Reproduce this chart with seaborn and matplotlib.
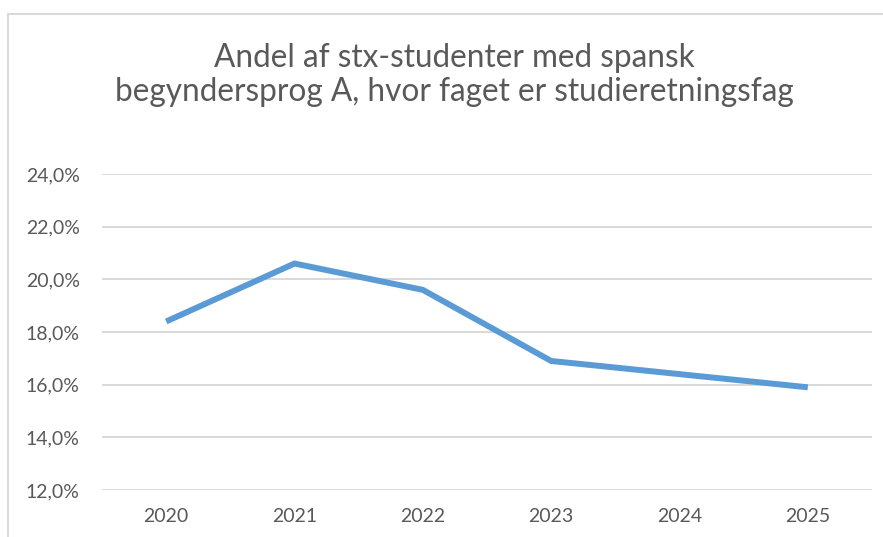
import matplotlib
matplotlib.use("Agg")
import matplotlib.pyplot as plt
import seaborn as sns
import pandas as pd
from matplotlib.ticker import FuncFormatter, FixedLocator
from matplotlib.patches import Rectangle

years = ["2020", "2021", "2022", "2023", "2024", "2025"]
values = [18.4, 20.6, 19.6, 16.9, 16.4, 15.9]
y_ticks = [12, 14, 16, 18, 20, 22, 24]
title = "Andel af stx-studenter med spansk\nbegyndersprog A, hvor faget er studieretningsfag"

sns.set_theme(style="white")
plt.rcParams["font.family"] = ["Lato", "DejaVu Sans"]

df = pd.DataFrame({"pos": range(len(years)), "value": values})

fig = plt.figure(figsize=(8.83, 5.37), dpi=100)
ax = fig.add_axes([102/883, 1-490/537, (872-102)/883, (490-174)/537])

sns.lineplot(data=df, x="pos", y="value", ax=ax, color="#5B9BD5", linewidth=4.3,
             solid_capstyle="butt", solid_joinstyle="miter")

ax.set_xlim(-0.5, len(years) - 0.5)
ax.set_ylim(12, 24)
ax.yaxis.set_major_locator(FixedLocator(y_ticks))
ax.yaxis.set_major_formatter(FuncFormatter(lambda v, p: f"{v:.1f}%".replace(".", ",")))
ax.set_xticks(range(len(years)))
ax.set_xticklabels(years)
ax.grid(axis="y", color="#D9D9D9", linewidth=1.4)
ax.set_axisbelow(True)
for s in ax.spines.values():
    s.set_visible(False)
ax.tick_params(axis="both", length=0, labelsize=14, labelcolor="#595959")
ax.tick_params(axis="y", pad=16)
ax.tick_params(axis="x", pad=13)
ax.set_xlabel("")
ax.set_ylabel("")

fig.text(454/883, 1-75/537, title, ha="center", va="center", fontsize=22.7,
         color="#595959", linespacing=1.2)

fig.patches.append(Rectangle((8/883, -0.1), 1.2, 1-14/537+0.1, transform=fig.transFigure,
                             fill=False, edgecolor="#D9D9D9", linewidth=1.4))

fig.savefig("out.png", dpi=100)
